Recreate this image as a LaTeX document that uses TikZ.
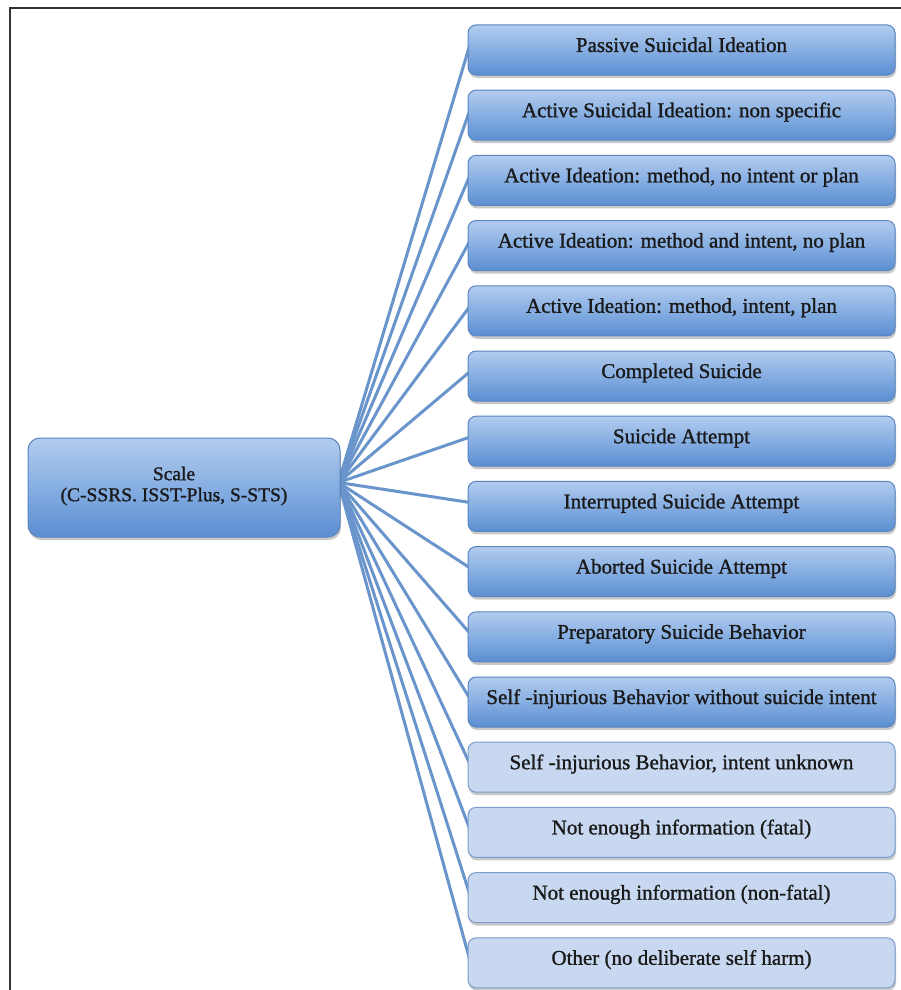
\documentclass[tikz,border=0pt]{standalone}
\usepackage{fontspec}
\setmainfont{Liberation Serif}
\newfontfamily\boxfont{Liberation Serif}[FakeBold=1.2]
\usetikzlibrary{shadows}
\pgfdeclarelayer{background}
\pgfsetlayers{background,main}
\definecolor{dtop}{HTML}{B2CCEE}
\definecolor{dmid}{HTML}{86AEE2}
\definecolor{dbot}{HTML}{5B8ED1}
\definecolor{dedge}{HTML}{5A86C0}
\definecolor{lfill}{HTML}{C7D8F0}
\definecolor{ledge}{HTML}{7C9CCB}
\definecolor{conn}{HTML}{6A95CC}
\definecolor{txt}{HTML}{1A1A1A}
\tikzset{
  basebox/.style={rounded corners=8pt, line width=1pt, minimum width=427pt, minimum height=50pt,
    inner sep=0pt, text height=14pt, text depth=10pt, text=txt, font=\boxfont\fontsize{21}{24}\selectfont,
    drop shadow={shadow xshift=1pt, shadow yshift=-3pt, opacity=0.3, fill=black!70}},
  darkbox/.style={basebox, draw=dedge, top color=dtop, bottom color=dbot, middle color=dmid},
  lightbox/.style={basebox, draw=ledge, fill=lfill},
  scalebox/.style={rounded corners=12pt, line width=1pt, draw=dedge, top color=dtop, bottom color=dbot, middle color=dmid,
    minimum width=312pt, minimum height=99pt,
    drop shadow={shadow xshift=1pt, shadow yshift=-3pt, opacity=0.3, fill=black!70}},
  connector/.style={conn, line width=3pt, line cap=round}
}
\begin{document}
\begin{tikzpicture}[x=1pt,y=-1pt]
\useasboundingbox (0,0) rectangle (901,990);
\begin{pgfonlayer}{background}
\fill[white] (0,0) rectangle (901,990);
\end{pgfonlayer}
\draw[line width=1.5pt, black!80] (10,990) -- (10,8) -- (901,8);
% scale box
\node[scalebox] (scale) at (184,487.5) {};
\node[text=txt, align=center, font=\boxfont\fontsize{19.5}{21}\selectfont] (scaletext) at (174,486) {Scale\\(C-SSRS. ISST-Plus, S-STS)};
\coordinate (src) at ([xshift=-2pt,yshift=5pt]scale.east);
% boxes
\foreach \i/\t in {
 1/Passive Suicidal Ideation,
 2/Active Suicidal Ideation: non specific,
 3/{Active Ideation: method, no intent or plan},
 4/{Active Ideation: method and intent, no plan},
 5/{Active Ideation: method, intent, plan},
 6/Completed Suicide,
 7/Suicide Attempt,
 8/Interrupted Suicide Attempt,
 9/Aborted Suicide Attempt,
 10/Preparatory Suicide Behavior,
 11/Self -injurious Behavior without suicide intent}{
  \node[darkbox] (b\i) at (681.5,{50+65.2*(\i-1)}) {\t};
}
\foreach \i/\t in {
 12/{Self -injurious Behavior, intent unknown},
 13/Not enough information (fatal),
 14/Not enough information (non-fatal),
 15/Other (no deliberate self harm)}{
  \node[lightbox] (b\i) at (681.5,{50+65.2*(\i-1)}) {\t};
}
% connectors behind boxes
\begin{pgfonlayer}{background}
\foreach \i in {1,...,15}{
  \draw[connector] (src) -- ([xshift=2pt,yshift=4pt]b\i.west);
}
\end{pgfonlayer}
\end{tikzpicture}
\end{document}
